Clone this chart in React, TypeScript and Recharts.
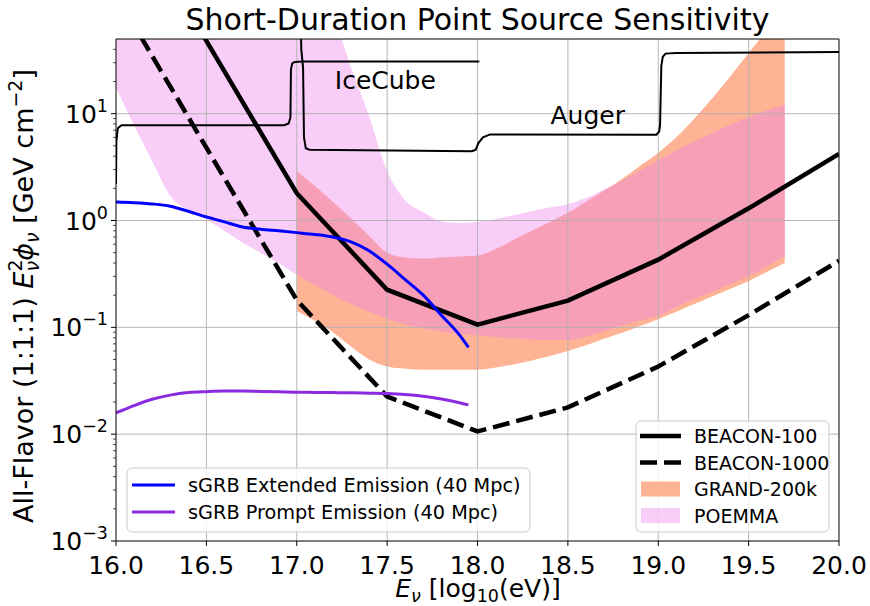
import React from 'react'
import {
  ComposedChart,
  Line,
  Area,
  XAxis,
  YAxis,
  ReferenceLine,
  ReferenceDot,
} from 'recharts'

const FONT = '"DejaVu Sans", sans-serif'
// whole page; the body margin is removed so tick labels at the edges are not cut
const W = 870
const H = 606

// energy grid, log10(eV)
const beaconX = [16.0, 16.5, 17.0, 17.5, 18.0, 18.5, 19.0, 19.5, 20.0]
const beacon100 = [1300, 48, 1.8, 0.225, 0.106, 0.178, 0.43, 1.3, 4.2]
const beacon1000 = [130, 4.8, 0.18, 0.0225, 0.0106, 0.0178, 0.043, 0.13, 0.42]

// IceCube / Auger limits (step-like curves)
const iceX = [16.0, 16.002, 16.01, 16.03, 16.93, 16.955, 16.965, 16.968, 16.975, 16.99, 17.03, 18.01]
const iceY = [2.2, 5.5, 7.3, 7.8, 7.8, 8.1, 9.2, 26, 29.5, 30.5, 30.8, 30.8]
const augerX = [17.022, 17.025, 17.035, 17.04, 17.05, 17.07, 17.97, 17.99, 18.005, 18.03, 18.07, 18.99, 19.005, 19.01, 19.017, 19.025, 19.04, 19.1, 20.0]
const augerY = [80, 40, 27, 6, 4.75, 4.6, 4.45, 4.6, 5.3, 6.0, 6.4, 6.35, 6.8, 7.8, 28, 34, 36.5, 37, 37.8]

// POEMMA band
const poemmaX = [16.0, 16.1, 16.2, 16.3, 16.4, 16.5, 16.6, 16.7, 16.8, 16.9,
  17.0, 17.1, 17.2, 17.3, 17.4, 17.5, 17.6, 17.7, 17.8, 17.9,
  18.0, 18.1, 18.2, 18.3, 18.4, 18.5, 18.6, 18.7, 18.8, 18.9,
  19.0, 19.1, 19.2, 19.3, 19.4, 19.5, 19.6, 19.7]
const poemmaLo = [17.5, 7.8, 3.6, 1.7, 1.25, 1.02, 0.8, 0.62, 0.5, 0.4,
  0.31, 0.25, 0.2, 0.165, 0.14, 0.12, 0.107, 0.098, 0.092, 0.087,
  0.084, 0.081, 0.079, 0.077, 0.076, 0.076, 0.082, 0.092, 0.104, 0.116,
  0.128, 0.155, 0.185, 0.215, 0.255, 0.3, 0.37, 0.46]
const poemmaHi = [300, 300, 300, 300, 300, 300, 300, 300, 300, 300,
  300, 300, 90, 27, 9.5, 2.9, 1.55, 1.2, 0.98, 0.95,
  0.97, 1.03, 1.12, 1.22, 1.32, 1.42, 1.62, 1.95, 2.35, 2.95,
  3.65, 4.5, 5.5, 6.6, 7.9, 9.3, 10.7, 12.1]

// GRAND-200k band
const grandX = [17.0, 17.1, 17.2, 17.3, 17.4, 17.5, 17.6, 17.7, 17.8, 17.9,
  18.0, 18.1, 18.2, 18.3, 18.4, 18.5, 18.6, 18.7, 18.8, 18.9,
  19.0, 19.1, 19.2, 19.3, 19.4, 19.5, 19.6, 19.7]
const grandLo = [0.142, 0.115, 0.09, 0.066, 0.05, 0.043, 0.041, 0.04, 0.04, 0.04,
  0.04, 0.042, 0.045, 0.049, 0.054, 0.06, 0.068, 0.078, 0.089, 0.103,
  0.119, 0.14, 0.165, 0.195, 0.23, 0.27, 0.33, 0.4]
const grandHi = [2.9, 2.1, 1.5, 1.05, 0.72, 0.5, 0.45, 0.44, 0.45, 0.46,
  0.47, 0.54, 0.66, 0.8, 0.97, 1.18, 1.5, 1.9, 2.45, 3.25,
  4.3, 6.0, 9.0, 14, 22.5, 37, 60, 95]

// sGRB curves (40 Mpc)
const sgrbX = [16.0, 16.1, 16.2, 16.3, 16.4, 16.5, 16.6, 16.7, 16.8, 16.9,
  17.0, 17.1, 17.2, 17.3, 17.4, 17.5, 17.6, 17.7, 17.8, 17.9, 17.95]
const sgrbExtended = [1.49, 1.47, 1.43, 1.36, 1.22, 1.08, 0.97, 0.87, 0.83, 0.8,
  0.77, 0.74, 0.7, 0.63, 0.52, 0.39, 0.28, 0.2, 0.13, 0.085, 0.065]
const sgrbPrompt = [0.0158, 0.0185, 0.0212, 0.0232, 0.0245, 0.025, 0.0253, 0.0253, 0.0251, 0.0249,
  0.0247, 0.0246, 0.0245, 0.0244, 0.0242, 0.024, 0.0235, 0.0226, 0.0213, 0.0197, 0.0188]

const xTicks = [16.0, 16.5, 17.0, 17.5, 18.0, 18.5, 19.0, 19.5, 20.0]
const yMajor = [0.001, 0.01, 0.1, 1, 10]
const yMajorLabels = ['\u22123', '\u22122', '\u22121', '0', '1']
const yMinor = [
  0.002, 0.003, 0.004, 0.005, 0.006, 0.007, 0.008, 0.009,
  0.02, 0.03, 0.04, 0.05, 0.06, 0.07, 0.08, 0.09,
  0.2, 0.3, 0.4, 0.5, 0.6, 0.7, 0.8, 0.9,
  2, 3, 4, 5, 6, 7, 8, 9,
  20, 30, 40,
]

const toPoints = (xs: number[], ys: number[]) => xs.map((x, i) => ({ x, y: ys[i] }))
const toBand = (xs: number[], lo: number[], hi: number[]) =>
  xs.map((x, i) => ({ x, range: [lo[i], hi[i]] }))

function XTick(props: any) {
  const { x, y, payload } = props
  return (
    <g>
      <line x1={x} x2={x} y1={y} y2={y + 5} stroke="#000" />
      <text x={x} y={y + 33} textAnchor="middle" fontSize={25} fill="#000">
        {payload.value.toFixed(1)}
      </text>
    </g>
  )
}

function YTick(props: any) {
  const { x, y, payload } = props
  const idx = yMajor.indexOf(payload.value)
  const major = idx >= 0
  return (
    <g>
      <line x1={x - (major ? 5 : 3)} x2={x} y1={y} y2={y} stroke="#000" strokeWidth={major ? 1 : 0.7} />
      {major && (
        <text x={x - 8} y={y + 9} textAnchor="end" fontSize={25} fill="#000">
          10<tspan dy={-11} fontSize={17.5}>{yMajorLabels[idx]}</tspan>
        </text>
      )}
    </g>
  )
}

const gridColor = '#b0b0b0'

export default function App() {
  return (
    <div style={{ position: 'relative', width: W, height: H, fontFamily: FONT }}>
      <style>{'html, body { margin: 0; padding: 0; overflow: hidden; }'}</style>
      <ComposedChart width={W} height={H} margin={{ top: 39, right: 31, left: 0, bottom: 0 }}>
        <XAxis
          type="number"
          dataKey="x"
          domain={[16, 20]}
          ticks={xTicks}
          interval={0}
          allowDataOverflow
          height={65}
          tickSize={0}
          tickMargin={0}
          tickLine={false}
          tick={<XTick />}
          axisLine={{ stroke: '#000' }}
        />
        <YAxis
          type="number"
          scale="log"
          domain={[0.001, 50]}
          ticks={[...yMajor, ...yMinor]}
          interval={0}
          allowDataOverflow
          width={116}
          tickSize={0}
          tickMargin={0}
          tickLine={false}
          tick={<YTick />}
          axisLine={{ stroke: '#000' }}
        />

        <Area
          data={toBand(grandX, grandLo, grandHi)}
          dataKey="range"
          type="monotone"
          stroke="none"
          fill="#FFA07A"
          fillOpacity={0.8}
          isAnimationActive={false}
          zIndex={100}
        />
        <Area
          data={toBand(poemmaX, poemmaLo, poemmaHi)}
          dataKey="range"
          type="monotone"
          stroke="none"
          fill="#EE82EE"
          fillOpacity={0.4}
          isAnimationActive={false}
          zIndex={101}
        />

        {xTicks.slice(1, -1).map((v) => (
          <ReferenceLine key={'gx' + v} x={v} stroke={gridColor} strokeWidth={0.9} zIndex={150} />
        ))}
        {yMajor.slice(1).map((v) => (
          <ReferenceLine key={'gy' + v} y={v} stroke={gridColor} strokeWidth={0.9} zIndex={150} />
        ))}

        <Line data={toPoints(iceX, iceY)} dataKey="y" type="linear" stroke="#000" strokeWidth={2} dot={false} isAnimationActive={false} zIndex={400} />
        <Line data={toPoints(augerX, augerY)} dataKey="y" type="linear" stroke="#000" strokeWidth={2} dot={false} isAnimationActive={false} zIndex={400} />
        <Line data={toPoints(beaconX, beacon100)} dataKey="y" type="linear" stroke="#000" strokeWidth={4.5} dot={false} isAnimationActive={false} zIndex={400} />
        <Line data={toPoints(beaconX, beacon1000)} dataKey="y" type="linear" stroke="#000" strokeWidth={4.5} strokeDasharray="17 7" dot={false} isAnimationActive={false} zIndex={400} />
        <Line data={toPoints(sgrbX, sgrbExtended)} dataKey="y" type="monotone" stroke="#0000ff" strokeWidth={3} dot={false} isAnimationActive={false} zIndex={401} />
        <Line data={toPoints(sgrbX, sgrbPrompt)} dataKey="y" type="monotone" stroke="#8a2be2" strokeWidth={3} dot={false} isAnimationActive={false} zIndex={401} />

        <ReferenceLine y={50} stroke="#000" ifOverflow="visible" zIndex={500} />
        <ReferenceLine x={20} stroke="#000" ifOverflow="visible" zIndex={500} />

        <ReferenceDot x={17.49} y={20.8} r={1} fill="none" stroke="none"
          label={{ value: 'IceCube', position: 'center', fontSize: 25, fill: '#000' }} />
        <ReferenceDot x={18.61} y={9.6} r={1} fill="none" stroke="none"
          label={{ value: 'Auger', position: 'center', fontSize: 25, fill: '#000' }} />
      </ComposedChart>

      <svg width={W} height={H} style={{ position: 'absolute', left: 0, top: 0, pointerEvents: 'none' }}>
        <text x={477.5} y={30} textAnchor="middle" fontSize={30} fill="#000">
          Short-Duration Point Source Sensitivity
        </text>

        <text transform="translate(33,296) rotate(-90)" textAnchor="middle" fontSize={27} fill="#000">
          All-Flavor (1:1:1) <tspan fontStyle="italic">E</tspan>
          <tspan fontSize={19} dy={-11}>2</tspan>
          <tspan fontSize={19} fontStyle="italic" dx={-12} dy={17}>ν</tspan>
          <tspan fontStyle="italic" dy={-6}>ϕ</tspan>
          <tspan fontSize={19} fontStyle="italic" dy={6}>ν</tspan>
          <tspan dy={-6}> [GeV cm</tspan>
          <tspan fontSize={19} dy={-11}>−2</tspan>
          <tspan dy={11}>]</tspan>
        </text>

        <text x={478} y={597} textAnchor="middle" fontSize={25} fill="#000">
          <tspan fontStyle="italic">E</tspan>
          <tspan fontSize={17.5} fontStyle="italic" dy={4.5}>ν</tspan>
          <tspan dy={-4.5}> [log</tspan>
          <tspan fontSize={17.5} dy={4.5}>10</tspan>
          <tspan dy={-4.5}>(eV)]</tspan>
        </text>

        <g fontSize={19.3} fill="#000">
          <rect x={127} y={468} width={403} height={64} rx={5} fill="#fff" fillOpacity={0.8} stroke="#cccccc" />
          <line x1={132} x2={175} y1={485} y2={485} stroke="#0000ff" strokeWidth={3} />
          <text x={188} y={492}>sGRB Extended Emission (40 Mpc)</text>
          <line x1={132} x2={175} y1={512} y2={512} stroke="#8a2be2" strokeWidth={3} />
          <text x={188} y={519}>sGRB Prompt Emission (40 Mpc)</text>
        </g>

        <g fontSize={19} fill="#000">
          <rect x={636} y={421} width={193} height={111} rx={5} fill="#fff" fillOpacity={0.8} stroke="#cccccc" />
          <line x1={640} x2={681} y1={436} y2={436} stroke="#000" strokeWidth={4.5} />
          <text x={694} y={443}>BEACON-100</text>
          <line x1={640} x2={681} y1={462.5} y2={462.5} stroke="#000" strokeWidth={4.5} strokeDasharray="17 7" />
          <text x={694} y={469.5}>BEACON-1000</text>
          <rect x={641} y={481.5} width={39} height={15} fill="#FFA07A" fillOpacity={0.8} />
          <text x={694} y={496}>GRAND-200k</text>
          <rect x={641} y={508} width={39} height={15} fill="#EE82EE" fillOpacity={0.4} />
          <text x={694} y={522.5}>POEMMA</text>
        </g>
      </svg>
    </div>
  )
}
